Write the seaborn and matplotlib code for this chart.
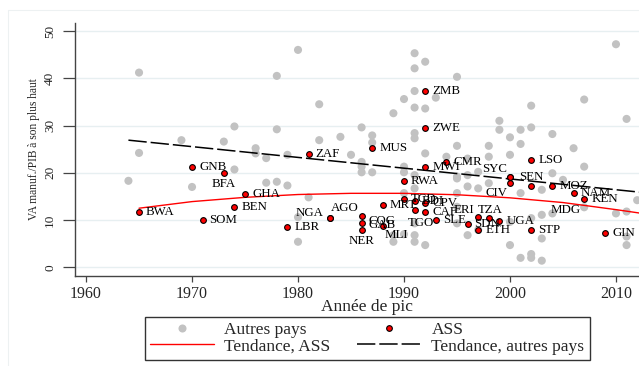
import numpy as np
import pandas as pd
import matplotlib
matplotlib.use("Agg")
import matplotlib.pyplot as plt
import seaborn as sns
from matplotlib.lines import Line2D

# --- Other countries: year of the peak and manufacturing VA / GDP at the peak (%)
autres_annee = [1964, 1965, 1965, 1969, 1970, 1973, 1974, 1974, 1976, 1976,
                1977, 1977, 1978, 1978, 1978, 1979, 1979, 1980, 1980, 1980,
                1981, 1982, 1982, 1984, 1985, 1986, 1986, 1986, 1986, 1987,
                1987, 1987, 1989, 1989, 1989, 1990, 1990, 1990, 1990, 1990,
                1991, 1991, 1991, 1991, 1991, 1991, 1991, 1991, 1991, 1991,
                1991, 1992, 1992, 1992, 1992, 1993, 1994, 1995, 1995, 1995,
                1995, 1995, 1995, 1995, 1996, 1996, 1996, 1996, 1997, 1997,
                1997, 1998, 1998, 1998, 1999, 1999, 2000, 2000, 2000, 2000,
                2001, 2001, 2001, 2001, 2002, 2002, 2002, 2002, 2002, 2003,
                2003, 2003, 2003, 2004, 2004, 2004, 2005, 2006, 2007, 2007,
                2007, 2010, 2010, 2011, 2011, 2011, 2011, 2012]
autres_va = [18.3, 41.2, 24.2, 26.9, 17.0, 26.6, 29.8, 20.7, 25.2, 24.1,
             23.1, 17.9, 40.5, 29.2, 18.1, 23.8, 17.3, 46.0, 10.6, 5.4,
             14.8, 34.5, 26.9, 27.6, 23.8, 29.6, 22.3, 21.3, 20.1, 27.9,
             26.4, 20.1, 32.6, 5.4, 6.8, 35.6, 21.3, 20.1, 15.7, 7.0,
             45.3, 42.1, 37.3, 33.8, 28.4, 27.3, 19.5, 16.7, 9.3, 6.8,
             5.4, 43.5, 33.6, 24.1, 4.7, 35.9, 23.4, 40.3, 25.7, 19.2,
             18.8, 15.7, 12.8, 9.3, 23.0, 19.5, 17.1, 6.8, 20.2, 16.7,
             7.9, 25.7, 23.4, 17.8, 31.0, 29.1, 27.5, 23.8, 9.6, 4.7,
             29.1, 26.1, 15.7, 2.0, 34.2, 29.6, 10.4, 2.8, 2.0, 16.4,
             11.1, 6.1, 1.4, 28.2, 19.9, 11.4, 18.5, 25.2, 35.5, 21.3,
             12.7, 47.2, 11.4, 31.4, 11.8, 6.5, 4.7, 14.2]

# --- Sub-Saharan Africa (ASS)
ass_pays = ["BWA", "GNB", "SOM", "BFA", "BEN", "GHA", "LBR", "ZAF", "NGA", "AGO",
            "COG", "GAB", "NER", "MUS", "MRT", "MLI", "RWA", "TCD", "BDI", "TGO",
            "ZMB", "ZWE", "MWI", "CPV", "CAF", "SLE", "CMR", "SDN", "ERI", "ETH",
            "TZA", "UGA", "SEN", "SYC", "CIV", "LSO", "MDG", "STP", "MOZ", "NAM",
            "KEN", "GIN"]
ass_annee = [1965, 1970, 1971, 1973, 1974, 1975, 1979, 1981, 1983, 1983,
             1986, 1986, 1986, 1987, 1988, 1988, 1990, 1990, 1991, 1991,
             1992, 1992, 1992, 1992, 1992, 1993, 1994, 1996, 1997, 1997,
             1998, 1999, 2000, 2000, 2000, 2002, 2002, 2002, 2004, 2006,
             2007, 2009]
ass_va = [11.6, 21.3, 10.0, 19.9, 12.7, 15.5, 8.5, 24.0, 10.4, 10.4,
          10.9, 9.3, 7.8, 25.3, 13.2, 8.8, 18.2, 14.4, 14.1, 12.1,
          37.2, 29.4, 21.2, 13.5, 11.6, 10.0, 22.2, 9.2, 10.6, 7.8,
          10.5, 9.8, 19.2, 19.2, 17.8, 22.6, 17.3, 7.9, 17.3, 15.7,
          14.5, 7.2]

# --- Trend curves (fitted values)
tend_ass_annee = [1965, 1970, 1975, 1980, 1985, 1990, 1995, 2000, 2005, 2010, 2014]
tend_ass_va = [12.5, 13.9, 14.8, 15.4, 15.65, 15.65, 15.35, 14.7, 13.7, 12.2, 10.9]
tend_autres_annee = [1964, 2014]
tend_autres_va = [26.9, 15.5]

x_ticks = [1960, 1970, 1980, 1990, 2000, 2010]
y_ticks = [0, 10, 20, 30, 40, 50]

x_titre = "Année de pic"
y_titre = "VA manuf./PIB à son plus haut"
noms_legende = ["Autres pays", "ASS", "Tendance, ASS", "Tendance, autres pays"]

# label placement for country codes: (dx px, dy px downward, ha, va)
defaut = (7, 0, "left", "center")
placement = {
    "BFA": (0, 11, "center", "center"),
    "NGA": (-6, -5.5, "right", "center"),
    "AGO": (1, -10, "left", "center"),
    "COG": (7, 5.5, "left", "center"),
    "GAB": (7, 1.5, "left", "center"),
    "NER": (0, 11, "center", "center"),
    "MLI": (14, 9.5, "center", "center"),
    "TGO": (6, 13, "center", "center"),
    "ERI": (-14, -7.5, "center", "center"),
    "TZA": (1, -7.5, "center", "center"),
    "SYC": (-15, -7.5, "center", "center"),
    "CIV": (-14, 9.5, "center", "center"),
    "MDG": (34, 24, "center", "center"),
    "SEN": (9, 0, "left", "center"),
}

# ---------------------------------------------------------------- style
sns.set_theme(style="white")
plt.rcParams["font.family"] = ["Liberation Serif", "DejaVu Serif"]

W, H = 639, 366
fig = plt.figure(figsize=(W / 100, H / 100), dpi=100)
fig.patch.set_facecolor("white")

# faint outline of the graph region
fig.add_artist(Line2D([8 / W, 1.2], [1 - 10 / H, 1 - 10 / H], transform=fig.transFigure,
                      color="#EDF1F2", lw=0.8))
fig.add_artist(Line2D([8 / W, 8 / W], [1 - 10 / H, -0.2], transform=fig.transFigure,
                      color="#EDF1F2", lw=0.8))

ax_l, ax_r, ax_t, ax_b = 74.7, 659.0, 23.3, 275.7
ax = fig.add_axes([ax_l / W, 1 - ax_b / H, (ax_r - ax_l) / W, (ax_b - ax_t) / H])
ax.set_facecolor("white")

df_autres = pd.DataFrame({"annee": autres_annee, "va": autres_va})
df_ass = pd.DataFrame({"pays": ass_pays, "annee": ass_annee, "va": ass_va})

GRIS = "#C2C2C2"
ROUGE = "#FF0000"

sns.scatterplot(data=df_autres, x="annee", y="va", ax=ax, color=GRIS, s=34,
                edgecolor="none", linewidth=0, zorder=2, legend=False)

sns.lineplot(x=tend_ass_annee, y=tend_ass_va, ax=ax, color=ROUGE, lw=1.0,
             zorder=2.5, legend=False)
sns.lineplot(x=tend_autres_annee, y=tend_autres_va, ax=ax, color="black", lw=1.1,
             dashes=(12, 2.6), zorder=2.5, legend=False)

sns.scatterplot(data=df_ass, x="annee", y="va", ax=ax, color=ROUGE, s=17,
                edgecolor="black", linewidth=0.8, zorder=3, legend=False)

for p, xa, ya in zip(ass_pays, ass_annee, ass_va):
    dx, dy, ha, va = placement.get(p, defaut)
    ax.annotate(p, (xa, ya), xytext=(dx * 0.72, -dy * 0.72), textcoords="offset points",
                ha=ha, va=va, fontsize=9.3, color="black", zorder=4, annotation_clip=False)

# ---------------------------------------------------------------- axes
ax.set_xlim(1958.93, 2014.06)
ax.set_ylim(-1.78, 51.63)
ax.set_xticks(x_ticks)
ax.set_yticks(y_ticks)
ax.set_xticklabels([str(v) for v in x_ticks], fontsize=11.5)
ax.set_yticklabels([str(v) for v in y_ticks], fontsize=9.5, rotation=90, va="center")
ax.tick_params(axis="x", length=4.3, width=0.9, color="#444444", pad=3, direction="out", bottom=True)
ax.tick_params(axis="y", length=8.4, width=0.9, color="#444444", pad=5.0, direction="out", left=True)
ax.set_xlabel(x_titre, fontsize=12.5, labelpad=-2)
ax.set_ylabel(y_titre, fontsize=8.3, labelpad=3)

ax.yaxis.grid(True, color="#E7EFF1", lw=1.0, zorder=0)
ax.xaxis.grid(False)
ax.set_axisbelow(True)
for s in ["top", "right"]:
    ax.spines[s].set_visible(False)
for s in ["left", "bottom"]:
    ax.spines[s].set_color("#444444")
    ax.spines[s].set_linewidth(1.0)

# ---------------------------------------------------------------- legend
h_aut = Line2D([], [], ls="none", marker="o", ms=5.8, mfc=GRIS, mec="none")
h_ass = Line2D([], [], ls="none", marker="o", ms=4.1, mfc=ROUGE, mec="black", mew=0.8)
h_tass = Line2D([], [], color=ROUGE, lw=1.0)
h_taut = Line2D([], [], color="black", lw=1.1, dashes=(12, 2.6))
leg = fig.legend([h_aut, h_tass, h_ass, h_taut],
                 [noms_legende[0], noms_legende[2], noms_legende[1], noms_legende[3]],
                 ncol=2, loc="upper left", bbox_to_anchor=(144.5 / W, 1 - 317 / H),
                 fontsize=12.5, frameon=True, fancybox=False, borderaxespad=0,
                 handlelength=3.7, handletextpad=0.58, columnspacing=1.55,
                 labelspacing=0.0, borderpad=0.3)
leg.get_frame().set_edgecolor("black")
leg.get_frame().set_linewidth(1.0)

fig.savefig("out.png", dpi=100, facecolor="white")
